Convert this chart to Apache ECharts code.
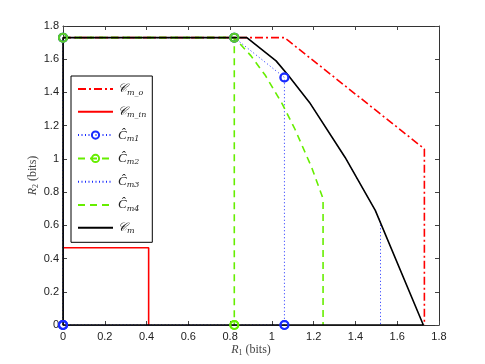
<!DOCTYPE html>
<html>
<head>
<meta charset="utf-8">
<script src="https://cdn.jsdelivr.net/npm/echarts@6/dist/echarts.min.js"></script>
<style>
  html, body { margin: 0; padding: 0; background: #fff; }
  #chart { width: 485px; height: 364px; }
</style>
</head>
<body>
<div id="chart"></div>
<script>
// region data (R1, R2) in bits
const cmOuter = [[0, 1.73], [1.06, 1.73], [1.73, 1.06], [1.73, 0]]
const cmInner = [[0, 0.465], [0.41, 0.465], [0.41, 0]]
const cmHat1 = [[0, 0], [0, 1.73], [0.82, 1.73], [1.06, 1.49], [1.06, 0], [0, 0]]
const cmHat2 = [[0, 1.73], [0.82, 1.73], [0.82, 0]]
const cmHat3 = [[0, 1.73], [0.88, 1.73], [1.02, 1.59], [1.08, 1.5], [1.18, 1.34], [1.35, 1.01], [1.495, 0.69], [1.52, 0.617], [1.52, 0]]
const cmHat4 = [[0, 1.73], [0.82, 1.73], [0.9, 1.62], [0.97, 1.5], [1.05, 1.33], [1.11, 1.18], [1.19, 0.95], [1.245, 0.76], [1.245, 0]]
const cmRegion = [[0, 0], [0, 1.73], [0.88, 1.73], [1.02, 1.59], [1.08, 1.5], [1.18, 1.34], [1.35, 1.01], [1.495, 0.69], [1.725, 0], [0, 0]]

const seriesNames = ['Cm_o', 'Cm_in', 'Chat1', 'Chat2', 'Chat3', 'Chat4', 'Cm']
const legendText = {
  Cm_o: '{c|𝒞}{s|m_o}',
  Cm_in: '{c|𝒞}{s|m_in}',
  Chat1: '{h|Ĉ}{s|m1}',
  Chat2: '{h|Ĉ}{s|m2}',
  Chat3: '{h|Ĉ}{s|m3}',
  Chat4: '{h|Ĉ}{s|m4}',
  Cm: '{c|𝒞}{s|m}'
}

const RED = '#ff0000'
const BLUE = '#1a2cff'
const GREEN = '#66ee00'
const NONE = 'rgba(0,0,0,0)'

const chart = echarts.init(document.getElementById('chart'))

const axisCommon = {
  type: 'value',
  min: 0,
  max: 1.8,
  interval: 0.2,
  axisLine: { show: true, onZero: false, lineStyle: { color: '#333', width: 1 } },
  axisTick: { show: true, inside: true, length: 4, lineStyle: { color: '#444' } },
  splitLine: { show: false }
}
const labelStyle = { fontFamily: 'Liberation Sans', fontSize: 11, color: '#222' }
const nameRich = {
  i: { fontFamily: 'Liberation Serif', fontStyle: 'italic', fontSize: 12, color: '#444' },
  s: { fontFamily: 'Liberation Serif', fontSize: 8, color: '#444', padding: [6, 0, 0, 0] },
  t: { fontFamily: 'Liberation Serif', fontSize: 12, color: '#444' }
}

const option = {
  animation: false,
  grid: { left: 63, right: 46, top: 26, bottom: 39 },
  legend: {
    data: seriesNames,
    orient: 'vertical',
    left: 71,
    top: 76,
    padding: [7, 6, 7, 6],
    itemWidth: 35,
    itemHeight: 9,
    itemGap: 9.3,
    borderColor: '#000',
    borderWidth: 1,
    backgroundColor: '#fff',
    formatter: name => legendText[name],
    textStyle: {
      rich: {
        c: { fontFamily: 'DejaVu Serif', fontStyle: 'italic', fontSize: 12, color: '#222' },
        h: { fontFamily: 'Liberation Serif', fontStyle: 'italic', fontSize: 13, color: '#222' },
        s: { fontFamily: 'DejaVu Serif', fontStyle: 'italic', fontSize: 8, color: '#222', padding: [7, 0, 0, 0] }
      }
    }
  },
  xAxis: [
    Object.assign({}, axisCommon, {
      position: 'bottom',
      axisLabel: Object.assign({ margin: 6, formatter: v => String(+v.toFixed(1)) }, labelStyle),
      name: '{i|R}{s|1}{t| (bits)}',
      nameLocation: 'middle',
      nameGap: 18,
      nameMoveOverlap: false,
      nameTextStyle: { rich: nameRich }
    }),
    Object.assign({}, axisCommon, { position: 'top', axisLabel: { show: false } })
  ],
  yAxis: [
    Object.assign({}, axisCommon, {
      position: 'left',
      axisLabel: Object.assign({ margin: 4, formatter: v => String(+v.toFixed(1)) }, labelStyle),
      name: '{i|R}{s|2}{t| (bits)}',
      nameLocation: 'middle',
      nameGap: 23,
      nameMoveOverlap: false,
      nameTextStyle: { rich: nameRich }
    }),
    Object.assign({}, axisCommon, { position: 'right', axisLabel: { show: false } })
  ],
  series: [
    {
      name: 'Cm_o', type: 'line', data: cmOuter, symbol: 'none',
      lineStyle: { color: RED, width: 1.6, type: [8, 3, 2, 3] }, itemStyle: { color: NONE }
    },
    {
      name: 'Cm_in', type: 'line', data: cmInner, symbol: 'none',
      lineStyle: { color: RED, width: 1.6 }, itemStyle: { color: NONE }
    },
    {
      name: 'Chat1', type: 'line', data: cmHat1, symbol: 'circle', symbolSize: 8, showSymbol: true,
      lineStyle: { color: BLUE, width: 1, type: [1, 2.5] },
      itemStyle: { color: NONE, borderColor: BLUE, borderWidth: 2 }
    },
    {
      name: 'Chat2', type: 'line', data: cmHat2, symbol: 'circle', symbolSize: 8, showSymbol: true,
      lineStyle: { color: GREEN, width: 1.6, type: [7, 5] },
      itemStyle: { color: NONE, borderColor: GREEN, borderWidth: 2 }
    },
    {
      name: 'Chat3', type: 'line', data: cmHat3, symbol: 'none',
      lineStyle: { color: BLUE, width: 1, type: [1, 2.5] }, itemStyle: { color: NONE }
    },
    {
      name: 'Chat4', type: 'line', data: cmHat4, symbol: 'none',
      lineStyle: { color: GREEN, width: 1.6, type: [7, 5] }, itemStyle: { color: NONE }
    },
    {
      name: 'Cm', type: 'line', data: cmRegion, symbol: 'none',
      lineStyle: { color: '#000', width: 1.6 }, itemStyle: { color: NONE }
    },
    // markers drawn again on top of the black boundary
    {
      name: 'Chat1 marks', type: 'scatter', data: cmHat1, symbol: 'circle', symbolSize: 8, z: 5,
      itemStyle: { color: NONE, borderColor: BLUE, borderWidth: 2 }
    },
    {
      name: 'Chat2 marks', type: 'scatter', data: cmHat2, symbol: 'circle', symbolSize: 8, z: 6,
      itemStyle: { color: NONE, borderColor: GREEN, borderWidth: 2 }
    }
  ]
}

chart.setOption(option)
</script>
</body>
</html>
